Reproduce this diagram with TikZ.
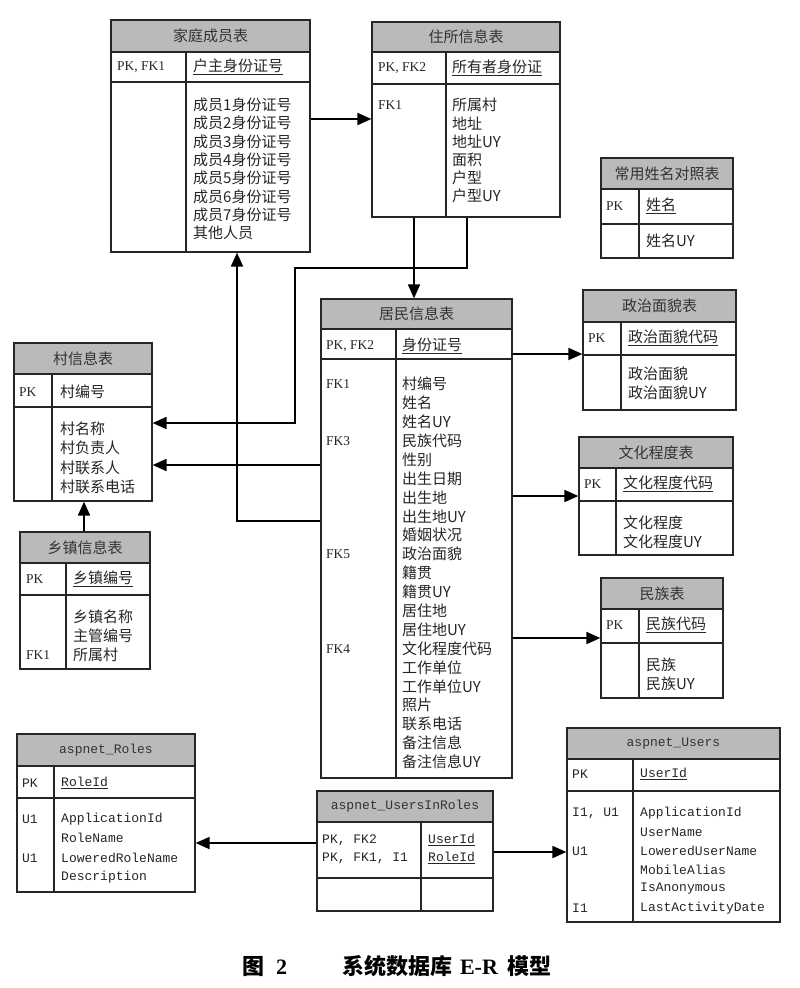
\documentclass[tikz,border=0pt]{standalone}
\usepackage{fontspec}
\setmainfont{Liberation Serif}
\setmonofont{Liberation Mono}
\newfontfamily\cjk{Noto Sans CJK SC}
\usetikzlibrary{arrows.meta,fit}
\tikzset{
  tbl/.style={draw=black!85, line width=1.2pt, inner sep=0pt},
  tblline/.style={draw=black!85, line width=1.2pt},
  fld/.style={anchor=west, inner sep=0pt, text=black!85, font=\cjk\fontsize{15}{16}\selectfont},
  key/.style={anchor=west, inner sep=0pt, text=black!85, font=\fontsize{13.5}{15}\selectfont},
  mono/.style={anchor=west, inner sep=0pt, text=black!85, font=\ttfamily\fontsize{13}{15}\selectfont},
  ttl/.style={inner sep=0pt, text=black!80, font=\cjk\fontsize{15}{16}\selectfont},
  conn/.style={line width=1.8pt, -{Triangle[length=14pt,width=12pt]}},
}
% name, x1, y1, x2, yheader, ykey, y2, xdivider, title
\newcommand\ertab[9]{%
  \fill[black!27] (#2,#3) rectangle (#4,#5);
  \node[tbl, fit={(#2,#3)(#4,#7)}] (#1) {};
  \draw[tblline] (#2,#5) -- (#4,#5) (#2,#6) -- (#4,#6) (#8,#5) -- (#8,#7);
  \node[ttl] (#1-t) at ({(#2+#4)/2},{(#3+#5)/2}) {#9};
}
% name, style, x, y0, step, list
\newcommand\flist[6]{%
  \foreach \t [count=\i from 0] in {#6} \node[#2] (#1-\i) at (#3,{#4+#5*\i}) {\t};
}
\begin{document}
\begin{tikzpicture}[x=1pt,y=-1pt]
\useasboundingbox (0,0) rectangle (800,988);
\fill[white] (0,0) rectangle (800,988);

% 家庭成员表
\ertab{jt}{111}{20}{310}{52}{82}{252}{186}{家庭成员表}
\node[key] (jt-k) at (117,67) {PK, FK1};
\node[fld] (jt-p) at (193,67) {\underline{户主身份证号}};
\flist{jtf}{fld}{193}{105}{18.3}{成员1身份证号,成员2身份证号,成员3身份证号,成员4身份证号,成员5身份证号,成员6身份证号,成员7身份证号,其他人员}

% 住所信息表
\ertab{zs}{372}{22}{560}{52}{84}{217}{446}{住所信息表}
\node[key] (zs-k) at (378,68) {PK, FK2};
\node[fld] (zs-p) at (452,68) {\underline{所有者身份证}};
\node[key] (zs-fk1) at (378,105) {FK1};
\flist{zsf}{fld}{452}{105}{18.2}{所属村,地址,地址UY,面积,户型,户型UY}

% 常用姓名对照表
\ertab{cy}{601}{158}{733}{189}{224}{258}{639}{常用姓名对照表}
\node[key] (cy-k) at (606,206) {PK};
\node[fld] (cy-p) at (646,206) {\underline{姓名}};
\node[fld] (cy-f) at (646,241) {姓名UY};

% 居民信息表
\ertab{jm}{321}{299}{512}{329}{359}{778}{396}{居民信息表}
\node[key] (jm-k) at (326,346) {PK, FK2};
\node[fld] (jm-p) at (402,346) {\underline{身份证号}};
\flist{jmf}{fld}{402}{384}{18.9}{村编号,姓名,姓名UY,民族代码,性别,出生日期,出生地,出生地UY,婚姻状况,政治面貌,籍贯,籍贯UY,居住地,居住地UY,文化程度代码,工作单位,工作单位UY,照片,联系电话,备注信息,备注信息UY}
\node[key] (jm-fk1) at (326,384) {FK1};
\node[key] (jm-fk3) at (326,440.7) {FK3};
\node[key] (jm-fk5) at (326,554.1) {FK5};
\node[key] (jm-fk4) at (326,648.6) {FK4};

% 政治面貌表
\ertab{zz}{583}{290}{736}{322}{355}{410}{621}{政治面貌表}
\node[key] (zz-k) at (588,338) {PK};
\node[fld] (zz-p) at (628,338) {\underline{政治面貌代码}};
\flist{zzf}{fld}{628}{374}{19}{政治面貌,政治面貌UY}

% 文化程度表
\ertab{wh}{579}{437}{733}{468}{501}{555}{616}{文化程度表}
\node[key] (wh-k) at (584,484) {PK};
\node[fld] (wh-p) at (623,484) {\underline{文化程度代码}};
\flist{whf}{fld}{623}{523}{18.5}{文化程度,文化程度UY}

% 民族表
\ertab{mz}{601}{578}{723}{609}{643}{698}{639}{民族表}
\node[key] (mz-k) at (606,625) {PK};
\node[fld] (mz-p) at (646,625) {\underline{民族代码}};
\flist{mzf}{fld}{646}{665}{18.5}{民族,民族UY}

% 村信息表
\ertab{cun}{14}{343}{152}{374}{407}{501}{52}{村信息表}
\node[key] (cun-k) at (19,392) {PK};
\node[fld] (cun-p) at (60,392) {村编号};
\flist{cunf}{fld}{60}{429}{19.3}{村名称,村负责人,村联系人,村联系电话}

% 乡镇信息表
\ertab{xz}{20}{532}{150}{563}{595}{669}{66}{乡镇信息表}
\node[key] (xz-k) at (26,579) {PK};
\node[fld] (xz-p) at (73,579) {\underline{乡镇编号}};
\flist{xzf}{fld}{73}{617}{19}{乡镇名称,主管编号,所属村}
\node[key] (xz-fk1) at (26,655) {FK1};

% aspnet_Roles
\ertab{ro}{17}{734}{195}{766}{798}{892}{54}{\ttfamily\fontsize{13}{15}\selectfont aspnet\_Roles}
\node[mono] (ro-k) at (22,783) {PK};
\node[mono] (ro-p) at (61,783) {\underline{RoleId}};
\flist{rof}{mono}{61}{819}{19.3}{ApplicationId,RoleName,LoweredRoleName,Description}
\node[mono] (ro-u1) at (22,819) {U1};
\node[mono] (ro-u2) at (22,858) {U1};

% aspnet_UsersInRoles
\ertab{ur}{317}{791}{493}{822}{878}{911}{421}{\ttfamily\fontsize{13}{15}\selectfont aspnet\_UsersInRoles}
\flist{urk}{mono}{322}{840}{18}{{PK, FK2},{PK, FK1, I1}}
\flist{urp}{mono}{428}{840}{18}{\underline{UserId},\underline{RoleId}}

% aspnet_Users
\ertab{us}{567}{728}{780}{759}{791}{922}{633}{\ttfamily\fontsize{13}{15}\selectfont aspnet\_Users}
\node[mono] (us-k) at (572,774) {PK};
\node[mono] (us-p) at (640,774) {\underline{UserId}};
\flist{usf}{mono}{640}{813}{19}{ApplicationId,UserName,LoweredUserName,MobileAlias,IsAnonymous,LastActivityDate}
\node[mono] (us-l1) at (572,813) {I1, U1};
\node[mono] (us-l2) at (572,851) {U1};
\node[mono] (us-l3) at (572,908) {I1};

% connectors
\coordinate (bend) at (295,268);
\draw[conn] (jt.east |- 0,119) -- (zs.west |- 0,119);
\draw[conn] (zs.south -| 414,0) -- (jm.north -| 414,0);
\draw[conn] (zs.south -| 467,0) |- (bend) |- (cun.east |- 0,423);
\draw[conn] (jm.west |- 0,465) -- (cun.east |- 0,465);
\draw[conn] (jm.west |- 0,521) -| (jt.south -| 237,0);
\draw[conn] (jm.east |- 0,354) -- (zz.west |- 0,354);
\draw[conn] (jm.east |- 0,496) -- (wh.west |- 0,496);
\draw[conn] (jm.east |- 0,638) -- (mz.west |- 0,638);
\draw[conn] (xz.north -| 84,0) -- (cun.south -| 84,0);
\draw[conn] (ur.west |- 0,843) -- (ro.east |- 0,843);
\draw[conn] (ur.east |- 0,852) -- (us.west |- 0,852);

% caption
\node[inner sep=0pt, font=\fontsize{22}{24}\selectfont\bfseries] (cap) at (397,966) {{\cjk\bfseries 图}\hspace{12pt}2\hspace{55pt}{\cjk\bfseries 系统数据库}\hspace{8pt}E-R\hspace{10pt}{\cjk\bfseries 模型}};
\end{tikzpicture}
\end{document}
